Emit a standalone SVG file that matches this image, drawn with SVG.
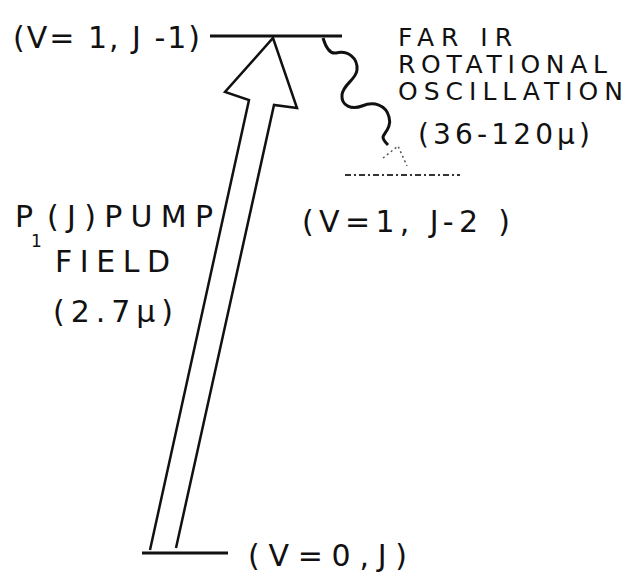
<svg xmlns="http://www.w3.org/2000/svg" width="634" height="581" viewBox="0 0 634 581">
<style>
.t{font-family:"DejaVu Sans","Liberation Sans",sans-serif;font-size:30px;fill:#111}
.s{font-family:"DejaVu Sans","Liberation Sans",sans-serif;font-size:25px;fill:#111}
.lv{stroke:#111;stroke-width:3;fill:none}
.ln{stroke:#111;stroke-width:2.5;fill:none;stroke-linejoin:miter}
</style>
<rect width="634" height="581" fill="#fff"/>
<g id="level-v1-jm1">
<line class="lv" x1="210" y1="36" x2="342" y2="36"/>
<text class="t" x="13" y="48" textLength="187" lengthAdjust="spacing">(V= 1, J -1)</text>
</g>
<g id="level-v1-jm2">
<line x1="345" y1="175" x2="460" y2="175" stroke="#333" stroke-width="2" stroke-dasharray="6 3 2 3"/>
<text class="t" x="302" y="232" textLength="208" lengthAdjust="spacing">(V=1, J-2 )</text>
</g>
<g id="level-v0-j">
<line class="lv" x1="142" y1="553" x2="228" y2="553"/>
<text class="t" x="248" y="566" textLength="159" lengthAdjust="spacing">(V=0,J)</text>
</g>
<g id="label-far-ir">
<text class="s" x="398" y="46" textLength="114" lengthAdjust="spacing">FAR IR</text>
<text class="s" x="398" y="73" textLength="209" lengthAdjust="spacing">ROTATIONAL</text>
<text class="s" x="398" y="100" textLength="225" lengthAdjust="spacing">OSCILLATION</text>
<text class="s" x="418" y="144" textLength="172" lengthAdjust="spacing" style="font-size:28px">(36-120μ)</text>
</g>
<g id="label-pump">
<text class="t" x="15" y="227">P</text>
<text class="t" x="31" y="247" style="font-size:17px">1</text>
<text class="t" x="47" y="227" textLength="166" lengthAdjust="spacing">(J)PUMP</text>
<text class="t" x="55" y="272" textLength="115" lengthAdjust="spacing">FIELD</text>
<text class="t" x="53" y="322" textLength="120" lengthAdjust="spacing">(2.7μ)</text>
</g>
<g id="connectors">
<polyline class="ln" points="150,550 249,100 225,92 273,38 297,108 274,105 176,548"/>
<path class="lv" d="M323,38 C326,48 330,54 336,53 C348,50 358,58 357,70 C356,80 343,84 342,95 C341,106 352,110 362,106 C374,101 386,105 389,117 C392,127 384,133 383,137 C383,140 386,143 388,145"/>
<polyline points="383,158 398,146 407,166" fill="none" stroke="#555" stroke-width="1.5" stroke-dasharray="2 3"/>
</g>
</svg>
